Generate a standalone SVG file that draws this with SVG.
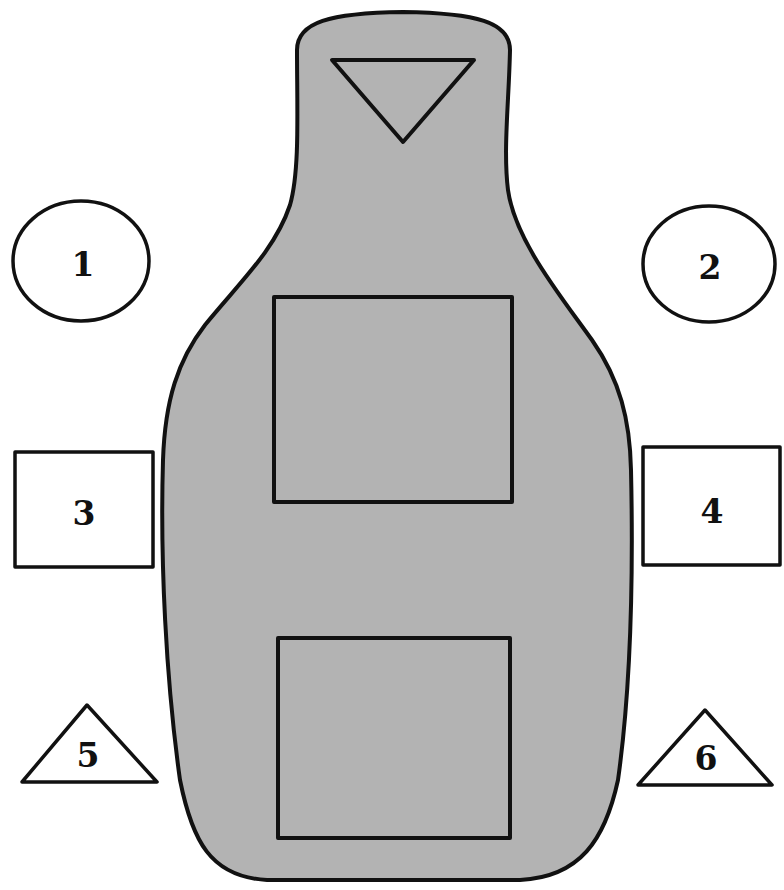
<svg xmlns="http://www.w3.org/2000/svg" width="784" height="890" viewBox="0 0 784 890">
<style>
.ln{fill:none;stroke:#111;stroke-width:4;stroke-linejoin:round}
.wf{fill:#fff;stroke:#111;stroke-width:3.5;stroke-linejoin:round}
.lb{font-family:"DejaVu Serif","Liberation Serif",serif;font-weight:bold;font-size:33px;fill:#111;text-anchor:middle;dominant-baseline:central}
</style>
<rect width="784" height="890" fill="#fff"/>
<g id="bottle">
<path d="M 297,50 C 297,22 330,13 403,12 C 476,13 510,22 510,50 C 509,100 503,150 508,190 C 515,240 560,295 592,340 C 620,380 630,420 631,470 C 633,560 632,680 618,780 C 605,840 580,877 520,880 L 267,880 C 210,877 192,840 180,780 C 166,680 160,560 163,460 C 165,400 178,360 205,325 C 240,282 275,250 290,205 C 300,170 297,110 297,50 Z" fill="#b3b3b3" stroke="#111" stroke-width="4" stroke-linejoin="round"/>
<path class="ln" d="M 332,60 L 474,60 L 403,142 Z"/>
<rect class="ln" x="274" y="297" width="238" height="205"/>
<rect class="ln" x="278" y="638" width="232" height="200"/>
</g>
<g id="n1"><ellipse class="wf" cx="81" cy="261" rx="68" ry="60"/><text class="lb" x="83" y="264">1</text></g>
<g id="n2"><ellipse class="wf" cx="709" cy="264" rx="66" ry="58"/><text class="lb" x="710" y="267">2</text></g>
<g id="n3"><rect class="wf" x="15" y="452" width="138" height="115"/><text class="lb" x="84" y="513">3</text></g>
<g id="n4"><rect class="wf" x="643" y="447" width="137" height="118"/><text class="lb" x="712" y="511">4</text></g>
<g id="n5"><path class="wf" d="M 87,705 L 157,782 L 22,782 Z"/><text class="lb" x="88" y="755">5</text></g>
<g id="n6"><path class="wf" d="M 705,710 L 772,785 L 638,785 Z"/><text class="lb" x="706" y="758">6</text></g>
<g id="connectors"></g>
</svg>
